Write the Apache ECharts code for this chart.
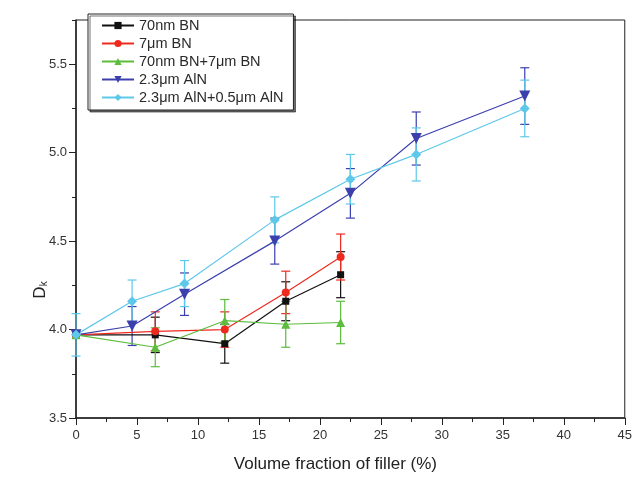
<!DOCTYPE html>
<html><head><meta charset="utf-8">
<script src="https://cdn.jsdelivr.net/npm/echarts@6/dist/echarts.min.js"></script>
<style>html,body{margin:0;padding:0;background:#fff}#c{width:635px;height:478px}</style>
</head><body><div id="c"></div>
<script>
// ---- data ----
const names = ['70nm BN', '7μm BN', '70nm BN+7μm BN', '2.3μm AlN', '2.3μm AlN+0.5μm AlN'];
const xBN = [0, 6.5, 12.2, 17.2, 21.7];
const xAlN = [0, 4.6, 8.9, 16.3, 22.5, 27.9, 36.8];
const bn70 = [3.97, 3.97, 3.92, 4.16, 4.31];
const bn70Err = [null, 0.10, 0.11, 0.11, 0.13];
const bn7 = [3.97, 3.99, 4.00, 4.21, 4.41];
const bn7Err = [null, 0.11, 0.10, 0.12, 0.13];
const bnMix = [3.97, 3.90, 4.05, 4.03, 4.04];
const bnMixErr = [null, 0.11, 0.12, 0.13, 0.12];
const aln23 = [3.97, 4.02, 4.20, 4.50, 4.77, 5.08, 5.32];
const aln23Err = [null, 0.11, 0.12, 0.13, 0.14, 0.15, 0.16];
const alnMix = [3.97, 4.16, 4.26, 4.62, 4.85, 4.99, 5.25];
const alnMixErr = [0.12, 0.12, 0.13, 0.13, 0.14, 0.15, 0.16];
const xTicks = [0, 45, 5];
const yTicks = [3.5, 5.75, 0.5];

const FONT = 'Liberation Sans';
const colors = ['#111111', '#ee2a1e', '#5cbc3c', '#3c40ac', '#5ec8ea'];
const symbols = ['rect', 'circle', 'triangle', 'triangle', 'diamond'];
const symSizes = [7, 8, 9, 11, 10];
const symRot = [0, 0, 0, 180, 0];
const groups = [
  [xBN, bn70, bn70Err], [xBN, bn7, bn7Err], [xBN, bnMix, bnMixErr],
  [xAlN, aln23, aln23Err], [xAlN, alnMix, alnMixErr]
];

const series = [];
groups.forEach((g, k) => {
  const [xs, ys, es] = g;
  series.push({
    type: 'custom', silent: true, z: 2,
    data: xs.map((x, i) => es[i] == null ? null : [x, ys[i] - es[i], ys[i] + es[i]]).filter(Boolean),
    encode: { x: 0, y: [1, 2] },
    renderItem: function (params, api) {
      const x = api.value(0);
      const lo = api.coord([x, api.value(1)]);
      const hi = api.coord([x, api.value(2)]);
      const w = 4.5;
      const st = { stroke: colors[k], lineWidth: 1.2 };
      return { type: 'group', children: [
        { type: 'line', shape: { x1: lo[0], y1: lo[1], x2: hi[0], y2: hi[1] }, style: st },
        { type: 'line', shape: { x1: lo[0] - w, y1: lo[1], x2: lo[0] + w, y2: lo[1] }, style: st },
        { type: 'line', shape: { x1: hi[0] - w, y1: hi[1], x2: hi[0] + w, y2: hi[1] }, style: st }
      ]};
    }
  });
});
groups.forEach((g, k) => {
  const [xs, ys] = g;
  series.push({
    name: names[k], type: 'line', z: 3,
    data: xs.map((x, i) => [x, ys[i]]),
    symbol: symbols[k], symbolSize: symSizes[k], symbolRotate: symRot[k],
    showAllSymbol: true,
    lineStyle: { color: colors[k], width: 1.2 },
    itemStyle: { color: colors[k] },
    emphasis: { disabled: true },
    animation: false
  });
});

const chart = echarts.init(document.getElementById('c'));
chart.setOption({
  animation: false,
  backgroundColor: '#fff',
  grid: { left: 76, right: 8, top: 20, bottom: 59, show: true, borderColor: '#222', borderWidth: 1 },
  legend: {
    data: names, orient: 'vertical', left: 88, top: 14,
    itemWidth: 32, itemHeight: 9, itemGap: 3,
    padding: [4, 10, 5, 13],
    backgroundColor: '#fff', borderColor: '#222', borderWidth: 1,
    shadowColor: 'rgba(0,0,0,0.55)', shadowOffsetX: 2, shadowOffsetY: 2, shadowBlur: 0,
    textStyle: { fontFamily: FONT, fontSize: 14.5, color: '#2a2a2a' }
  },
  xAxis: {
    type: 'value', min: xTicks[0], max: xTicks[1], interval: xTicks[2],
    name: 'Volume fraction of filler (%)', nameLocation: 'middle', nameGap: 38,
    nameTextStyle: { fontFamily: FONT, fontSize: 17, color: '#222', padding: [0, 30, 0, 0] },
    axisLine: { lineStyle: { color: '#222', width: 1.5 } },
    axisTick: { length: 7, lineStyle: { color: '#222' } },
    minorTick: { show: true, splitNumber: 2, length: 4, lineStyle: { color: '#222' } },
    axisLabel: { fontFamily: FONT, fontSize: 13, color: '#333', margin: 11 },
    splitLine: { show: false }
  },
  yAxis: [{
    type: 'value', min: yTicks[0], max: yTicks[1], interval: yTicks[2],
    axisLine: { lineStyle: { color: '#222', width: 1.5 } },
    axisTick: { length: 7, lineStyle: { color: '#222' } },
    axisLabel: { fontFamily: FONT, fontSize: 13, color: '#333', margin: 9, showMaxLabel: false,
      formatter: v => v.toFixed(1) },
    splitLine: { show: false }
  }, {
    type: 'value', position: 'left', min: yTicks[0], max: yTicks[1], interval: yTicks[2] / 2,
    axisLine: { show: false },
    axisTick: { length: 4, lineStyle: { color: '#222' } },
    axisLabel: { show: false },
    splitLine: { show: false }
  }],
  graphic: [{
    type: 'text', x: 40, y: 290, rotation: Math.PI / 2,
    style: {
      text: 'D{k|k}', align: 'center', verticalAlign: 'middle',
      fontFamily: FONT, fontSize: 17, fill: '#222',
      rich: { k: { fontFamily: FONT, fontSize: 10, fill: '#222', padding: [8, 0, 0, 0] } }
    }
  }],
  series: series
});
</script>
</body></html>
